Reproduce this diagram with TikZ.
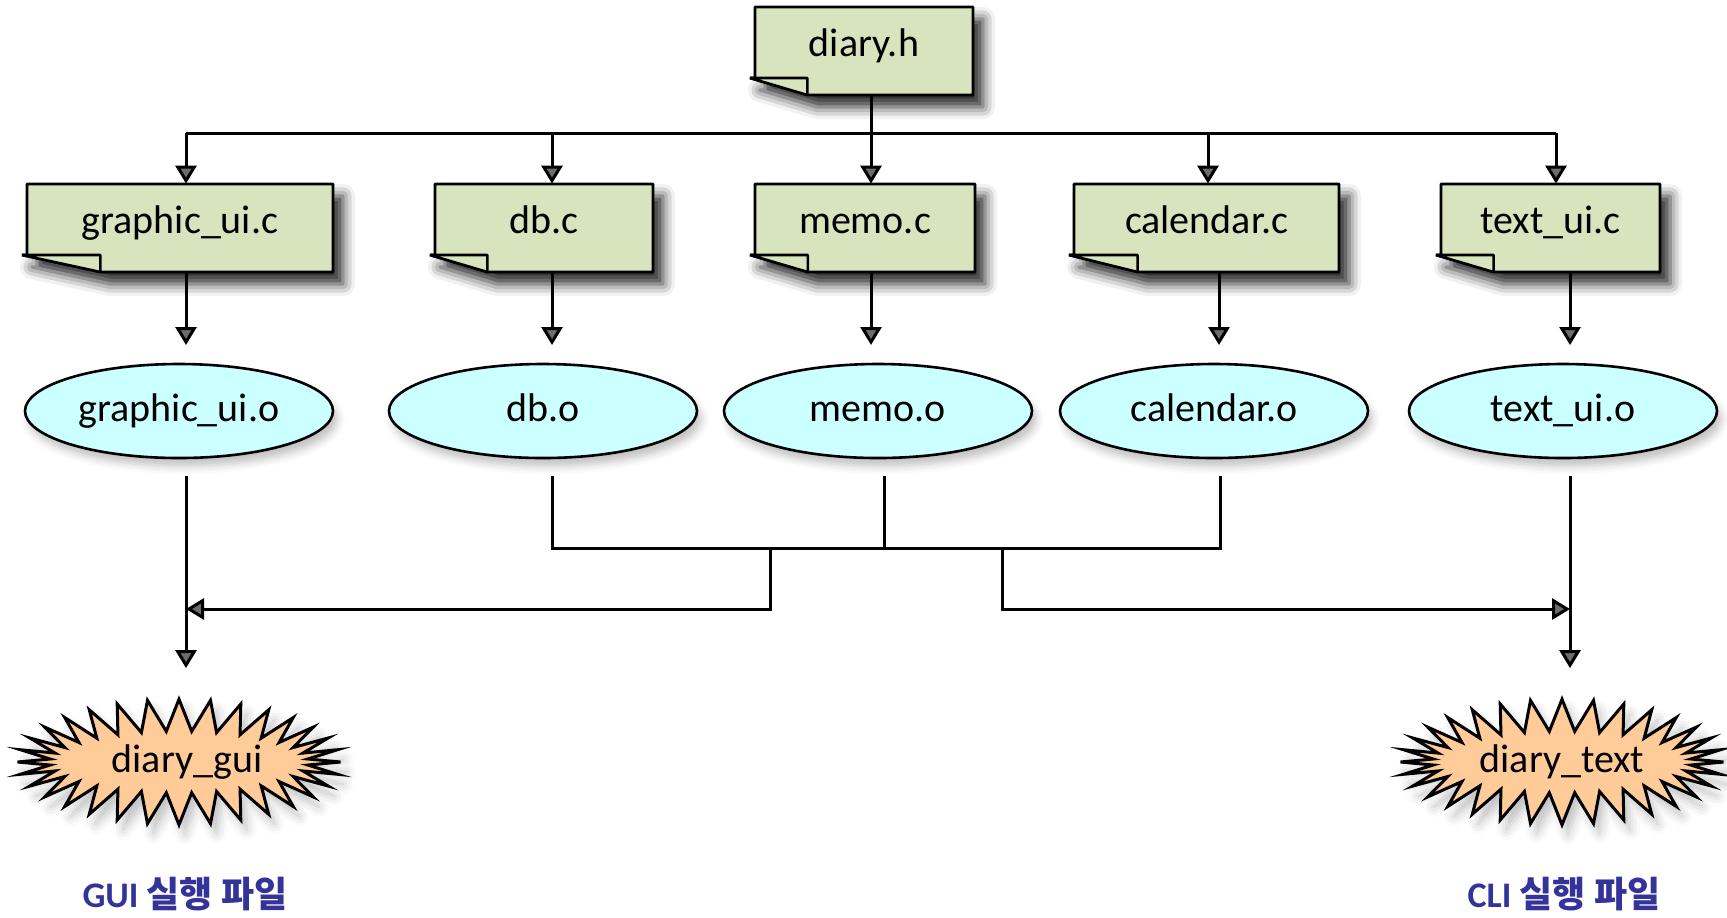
\documentclass[tikz,border=0pt]{standalone}
\usepackage{fontspec}
\setmainfont{Carlito}
\newfontfamily\krfont{Noto Sans CJK KR}
\usetikzlibrary{shapes.geometric,shapes.symbols,arrows.meta,calc,shadows.blur}
\definecolor{docgreen}{RGB}{215,228,189}
\definecolor{objcyan}{RGB}{204,255,255}
\definecolor{exepeach}{RGB}{255,204,153}
\definecolor{labelblue}{RGB}{51,51,153}
% #1 name, #2 centre x, #3 centre y, #4 half width (px), #5 text
\newcommand\docbox[5]{%
  \draw[docbody, blur shadow={shadow xshift=5pt, shadow yshift=-6pt, shadow blur radius=6pt, shadow opacity=85}]
    ({#2-#4},{#3-44}) -- ({#2+#4},{#3-44}) -- ({#2+#4},{#3+44})
    -- ({#2-0.52*#4},{#3+44}) -- ({#2-#4-5},{#3+27}) -- ({#2-#4},{#3+27}) -- cycle;
  \draw[docbody] ({#2-#4-5},{#3+27}) -- ({#2-0.52*#4},{#3+27}) -- ({#2-0.52*#4},{#3+44}) -- cycle;
  \node[docnode, minimum width=#4pt] (#1) at (#2,#3) {#5};
}
\begin{document}
\begin{tikzpicture}[x=0.5pt,y=-0.5pt,
  docbody/.style={draw, line width=1.3pt, fill=docgreen, line join=bevel},
  docnode/.style={rectangle, minimum height=44pt, inner sep=0pt, text height=14pt, text depth=9pt, font=\fontsize{20}{24}\selectfont},
  objnode/.style={ellipse, draw, line width=1.3pt, fill=objcyan, minimum width=154pt, minimum height=47pt, inner sep=0pt,
    text height=14pt, text depth=4pt, font=\fontsize{20}{24}\selectfont,
    blur shadow={shadow xshift=2pt, shadow yshift=-4pt, shadow blur radius=4pt, shadow opacity=25}},
  exenode/.style={starburst, starburst points=32, starburst point height=16pt, random starburst=0, draw, line width=1.5pt, fill=exepeach,
    minimum width=161.5pt, minimum height=62.8pt, inner sep=0pt, font=\fontsize{20}{24}\selectfont,
    blur shadow={shadow xshift=3pt, shadow yshift=-5pt, shadow blur radius=5pt, shadow opacity=25}},
  labnode/.style={text=labelblue, font=\bfseries\fontsize{18}{22}\selectfont},
  conn/.style={line width=1.5pt},
  arr/.style={line width=1.5pt, -{Triangle[length=9pt,width=10.5pt]}}]
\useasboundingbox (0,0) rectangle (1727,917);

% header and source files
\docbox{dh}{864}{51}{109}{diary.h}
\docbox{gc}{180}{228}{153}{graphic\_ui.c}
\docbox{dbc}{544}{228}{109}{db.c}
\docbox{mc}{865}{228}{110}{memo.c}
\docbox{cc}{1206.5}{228}{132.5}{calendar.c}
\docbox{tc}{1550.5}{228}{109.5}{text\_ui.c}

% object files
\node[objnode] (go) at (179,411) {graphic\_ui.o};
\node[objnode] (dbo) at (543,411) {db.o};
\node[objnode] (mo) at (878,411) {memo.o};
\node[objnode] (co) at (1214,411) {calendar.o};
\node[objnode] (to) at (1563,411) {text\_ui.o};

% executables
\node[exenode] (eg) at (179,762) {\hspace*{8pt}diary\_gui};
\node[exenode] (et) at (1562,762) {diary\_text};

\node[labnode] (lg) at (185,894) {GUI {\krfont 실행 파일}};
\node[labnode] (lc) at (1564,894) {CLI {\krfont 실행 파일}};

% column coordinates
\coordinate (c1) at (186,133);
\coordinate (c2) at (552,133);
\coordinate (c3) at (871,133);
\coordinate (c4) at (1208,133);
\coordinate (c5) at (1556,133);
\coordinate (d1) at (186,345);
\coordinate (d2) at (552,345);
\coordinate (d3) at (871,345);
\coordinate (d4) at (1219,345);
\coordinate (d5) at (1570,345);
\coordinate (x1) at (186,0);
\coordinate (x2) at (552,0);
\coordinate (x3) at (884,0);
\coordinate (x4) at (1220,0);
\coordinate (x5) at (1570,0);
\coordinate (y1) at (0,476);
\coordinate (bus2) at (0,548);
\coordinate (bus3) at (0,609);
\coordinate (jl) at (770,548);
\coordinate (jr) at (1002,548);

% header to sources
\draw[conn] (dh.south -| c3) -- (c3);
\draw[conn] (c1) -- (c5);
\foreach \c/\n in {c1/gc,c2/dbc,c3/mc,c4/cc,c5/tc}
  \draw[arr] (\c) -- (\n.north -| \c);

% sources to objects
\foreach \d/\n in {d1/gc,d2/dbc,d3/mc,d4/cc,d5/tc}
  \draw[arr] (\n.south -| \d) -- (\d);

% objects to executables
\draw[arr] (y1 -| x1) -- ($(eg.north -| x1)+(0,-27)$);
\draw[conn] (y1 -| x2) -- (bus2 -| x2) -- (bus2 -| x4) -- (y1 -| x4);
\draw[conn] (y1 -| x3) -- (bus2 -| x3);
\draw[arr] (jl) |- (bus3 -| x1);
\draw[arr] (jr) |- (bus3 -| x5);
\draw[arr] (y1 -| x5) -- ($(et.north -| x5)+(0,-27)$);
\end{tikzpicture}
\end{document}
